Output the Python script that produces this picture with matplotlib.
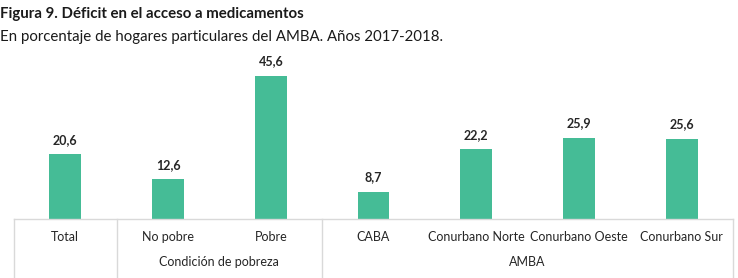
import matplotlib
matplotlib.use("Agg")
import matplotlib.pyplot as plt
import matplotlib.transforms as mtransforms

categories = ["Total", "No pobre", "Pobre", "CABA", "Conurbano Norte", "Conurbano Oeste", "Conurbano Sur"]
values = [20.6, 12.6, 45.6, 8.7, 22.2, 25.9, 25.6]
value_labels = ["20,6", "12,6", "45,6", "8,7", "22,2", "25,9", "25,6"]
groups = [("Condición de pobreza", 1, 2), ("AMBA", 3, 6)]
title = "Figura 9. Déficit en el acceso a medicamentos"
subtitle = "En porcentaje de hogares particulares del AMBA. Años 2017-2018."

plt.rcParams['font.family'] = ['Lato', 'DejaVu Sans']

W, H = 738, 278
fig = plt.figure(figsize=(W / 100, H / 100), dpi=100)
left_px, right_px, base_px, top_px = 14, 733, 219, 60
ax = fig.add_axes([left_px / W, (H - base_px) / H, (right_px - left_px) / W, (base_px - top_px) / H])

x = list(range(len(categories)))
bars = ax.bar(x, values, width=0.31, color="#45BC96")
ax.set_xlim(-0.5, len(categories) - 0.5)
ax.set_ylim(0, 50.6)
ax.axis("off")

for xi, v, lab in zip(x, values, value_labels):
    ax.annotate(lab, (xi, v), xytext=(0, 6), textcoords="offset points",
                ha="center", va="bottom", fontsize=9, fontweight="bold", color="#262626")

trans = mtransforms.blended_transform_factory(ax.transData, ax.transAxes)
ax_h = base_px - top_px
def yfrac(py):
    return -(py - base_px) / ax_h

line_kw = dict(color="#D9D9D9", lw=1.0, clip_on=False, transform=trans)
ax.plot([-0.5, len(categories) - 0.5], [0, 0], **line_kw)
for xv in [-0.5, 0.5, 2.5, len(categories) - 0.5]:
    ax.plot([xv, xv], [0, yfrac(H)], **line_kw)

for xi, c in zip(x, categories):
    ax.text(xi, yfrac(237), c, transform=trans, ha="center", va="center", fontsize=9, color="#262626")
for name, a, b in groups:
    ax.text((a + b) / 2, yfrac(262), name, transform=trans, ha="center", va="center", fontsize=9, color="#262626")

fig.text(0 / W, 1 - 14 / H, title, ha="left", va="center", fontsize=10.8, fontweight="bold", color="#1a1a1a")
fig.text(0 / W, 1 - 37 / H, subtitle, ha="left", va="center", fontsize=10.8, color="#1a1a1a")

fig.savefig("out.png", dpi=100)
